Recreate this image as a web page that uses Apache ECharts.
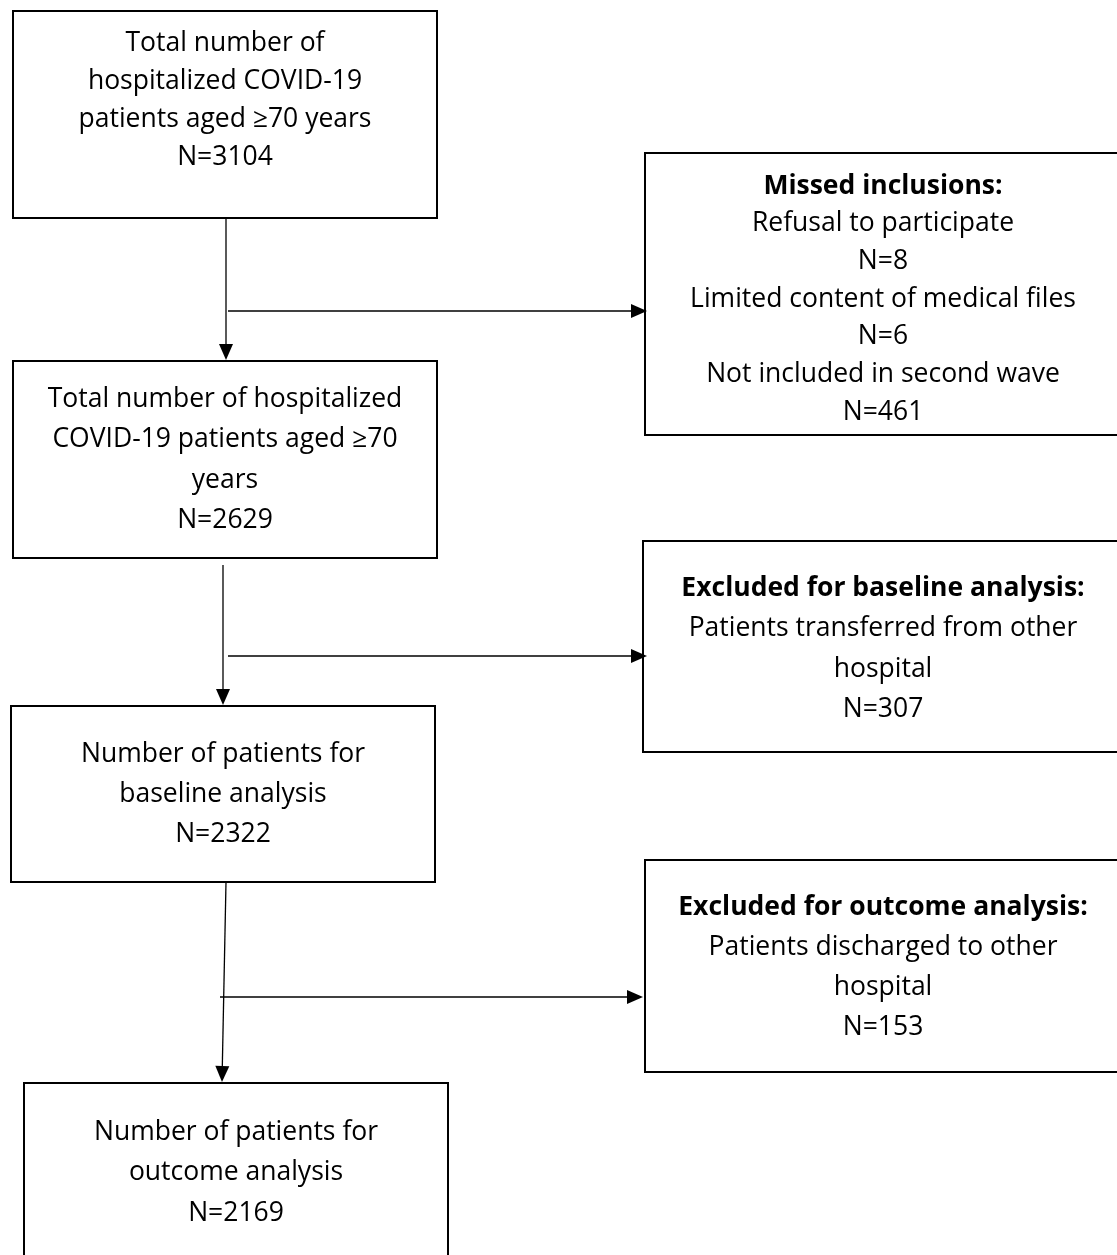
<!DOCTYPE html>
<html><head><meta charset="utf-8">
<script src="https://cdn.jsdelivr.net/npm/echarts@6/dist/echarts.min.js"></script>
<style>html,body{margin:0;background:#fff}#c{width:1117px;height:1255px}</style>
</head><body><div id="c"></div>
<script>
// Content
const boxTitles = ["", "Missed inclusions:", "", "Excluded for baseline analysis:", "", "Excluded for outcome analysis:", ""];
const boxLines = [
  ["Total number of", "hospitalized COVID-19", "patients aged \u226570 years"],
  ["Refusal to participate", "N=8", "Limited content of medical files", "N=6", "Not included in second wave"],
  ["Total number of hospitalized", "COVID-19 patients aged \u226570", "years"],
  ["Patients transferred from other", "hospital"],
  ["Number of patients for", "baseline analysis"],
  ["Patients discharged to other", "hospital"],
  ["Number of patients for", "outcome analysis"]
];
const boxCounts = [3104, 461, 2629, 307, 2322, 153, 2169];

// Layout (pixel frame: x0,y0,x1,y1, first text line y, line height)
const boxLayout = [
  [13, 11, 437, 218, 43, 38],
  [645, 153, 1120, 435, 186, 37.7],
  [13, 361, 437, 558, 399, 40.5],
  [643, 541, 1120, 752, 588, 40.5],
  [11, 706, 435, 882, 754, 40],
  [645, 860, 1120, 1072, 907, 40],
  [24, 1083, 448, 1262, 1132, 40.5]
];
const arrowLayout = [
  [226, 218, 226, 360], [228, 311, 647, 311],
  [223, 565, 223, 705], [228, 656, 647, 656],
  [226, 882, 222, 1082], [220, 997, 643, 997]
];

const FONT = "'Open Sans', sans-serif";

const chart = echarts.init(document.getElementById('c'));
chart.setOption({
  animation: false,
  grid: {left: 0, right: 0, top: 0, bottom: 0},
  xAxis: {type: 'value', min: 0, max: 1117, show: false},
  yAxis: {type: 'value', min: 0, max: 1255, inverse: true, show: false},
  series: [
    {
      type: 'custom', coordinateSystem: 'cartesian2d',
      data: boxLayout,
      renderItem: function (params, api) {
        const i = params.dataIndex;
        const p0 = api.coord([api.value(0), api.value(1)]);
        const p1 = api.coord([api.value(2), api.value(3)]);
        const ty = api.coord([0, api.value(4)])[1];
        const lh = api.value(5);
        const lines = [];
        if (boxTitles[i]) lines.push({t: boxTitles[i], b: true});
        boxLines[i].forEach(t => lines.push({t: t, b: false}));
        lines.push({t: 'N=' + boxCounts[i], b: false});
        const midX = i % 2 === 1 ? 883 : (p0[0] + p1[0]) / 2;
        const children = [{
          type: 'rect',
          shape: {x: p0[0], y: p0[1], width: p1[0] - p0[0], height: p1[1] - p0[1]},
          style: {fill: '#fff', stroke: '#000', lineWidth: 2}
        }];
        lines.forEach((l, k) => children.push({
          type: 'text',
          style: {text: l.t, x: midX, y: ty + k * lh, align: 'center', verticalAlign: 'middle',
                  font: (l.b ? 'bold ' : '') + '26.5px ' + FONT, fill: '#000'}
        }));
        return {type: 'group', children: children};
      }
    },
    {
      type: 'custom', coordinateSystem: 'cartesian2d',
      data: arrowLayout,
      renderItem: function (params, api) {
        const a = api.coord([api.value(0), api.value(1)]);
        const b = api.coord([api.value(2), api.value(3)]);
        const ang = Math.atan2(b[1] - a[1], b[0] - a[0]);
        const L = 16, W = 7;
        const bx = b[0] - L * Math.cos(ang), by = b[1] - L * Math.sin(ang);
        const px = -Math.sin(ang) * W, py = Math.cos(ang) * W;
        return {type: 'group', children: [
          {type: 'line', shape: {x1: a[0], y1: a[1], x2: bx, y2: by}, style: {stroke: '#000', lineWidth: 1.3}},
          {type: 'polygon', shape: {points: [[b[0], b[1]], [bx + px, by + py], [bx - px, by - py]]}, style: {fill: '#000'}}
        ]};
      }
    }
  ]
});
</script></body></html>
